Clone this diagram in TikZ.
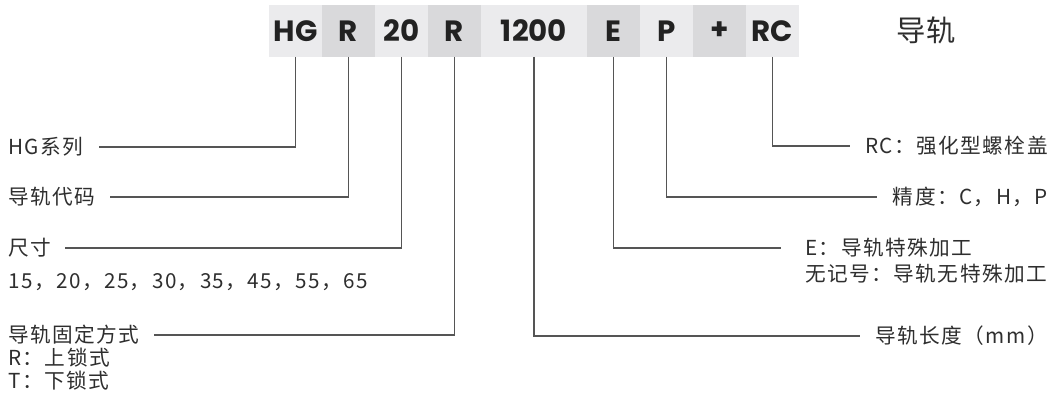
\documentclass[tikz,border=0pt]{standalone}
\usepackage{fontspec}
\usepackage{tikz}
\usetikzlibrary{positioning}
\newfontfamily\cjk{Noto Sans CJK SC}[LetterSpace=7]
\newfontfamily\cjkplain{Noto Sans CJK SC}
\newfontfamily\headfont{Poppins}
\definecolor{boxLight}{HTML}{EBEBED}
\definecolor{boxDark}{HTML}{D9D9DB}
\definecolor{inkDark}{HTML}{222222}
\definecolor{inkText}{HTML}{2E2E2E}
\definecolor{lineGrey}{HTML}{555555}
\begin{document}
\begin{tikzpicture}[x=0.75pt, y=-0.75pt, node distance=0pt,
  codebox/.style={minimum width=39.75pt, minimum height=39pt, inner sep=0pt, outer sep=0pt,
    text=inkDark, font=\headfont\bfseries\fontsize{22}{25}\selectfont},
  lbl/.style={inner sep=0pt, text=inkText, font=\cjk\fontsize{15.5}{18}\selectfont},
  link/.style={draw=lineGrey, line width=0.8pt}]

\useasboundingbox (0,0) rectangle (1061,406);

% code header
\node[codebox, fill=boxLight, anchor=north west] (hg) at (269,5) {HG};
\node[codebox, fill=boxDark, right=of hg] (rail) {R};
\node[codebox, fill=boxLight, right=of rail] (size) {20};
\node[codebox, fill=boxDark, right=of size] (fix) {R};
\node[codebox, fill=boxLight, minimum width=79.5pt, right=of fix] (len) {1200};
\node[codebox, fill=boxDark, right=of len] (spec) {E};
\node[codebox, fill=boxLight, right=of spec] (prec) {P};
\node[codebox, fill=boxDark, right=of prec] (plus) {+};
\node[codebox, fill=boxLight, right=of plus] (cap) {RC};

\node[text=inkText, font=\cjkplain\fontsize{22}{26}\selectfont] (title) at (926,30) {导轨};

% left side labels
\node[lbl, anchor=west] (hgtxt) at (8,147) {HG系列};
\node[lbl, anchor=west] (railtxt) at (8,197) {导轨代码};
\node[lbl, anchor=west] (sizetxt) at (8,248) {尺寸};
\node[lbl, anchor=west] (sizelist) at (8,282) {15，20，25，30，35，45，55，65};
\node[lbl, anchor=west] (fixtxt) at (8,335) {导轨固定方式};
\node[lbl, anchor=west] (fixup) at (8,358) {R：上锁式};
\node[lbl, anchor=west] (fixdown) at (8,381) {T：下锁式};

% right side labels
\node[lbl, anchor=east] (captxt) at (1048,146) {RC：强化型螺栓盖};
\node[lbl, anchor=east] (prectxt) at (1048,197) {精度：C，H，P};
\node[lbl, anchor=west] (spectxt) at (805,248) {E：导轨特殊加工};
\node[lbl, anchor=west] (specnone) at (805,274) {无记号：导轨无特殊加工};
\node[lbl, anchor=east] (lentxt) at (1048,336) {导轨长度（mm）};

% connectors
\draw[link] (hg.south) |- ([xshift=12pt]hgtxt.east);
\draw[link] (rail.south) |- ([xshift=10.5pt]railtxt.east);
\draw[link] (size.south) |- ([xshift=10pt]sizetxt.east);
\draw[link] (fix.south) |- ([xshift=10.5pt]fixtxt.east);
\draw[link] (len.south) |- ([xshift=-11pt]lentxt.west);
\draw[link] (spec.south) |- ([xshift=-18pt]spectxt.west);
\draw[link] (prec.south) |- ([xshift=-12pt]prectxt.west);
\draw[link] (cap.south) |- ([xshift=-11pt]captxt.west);

\end{tikzpicture}
\end{document}
